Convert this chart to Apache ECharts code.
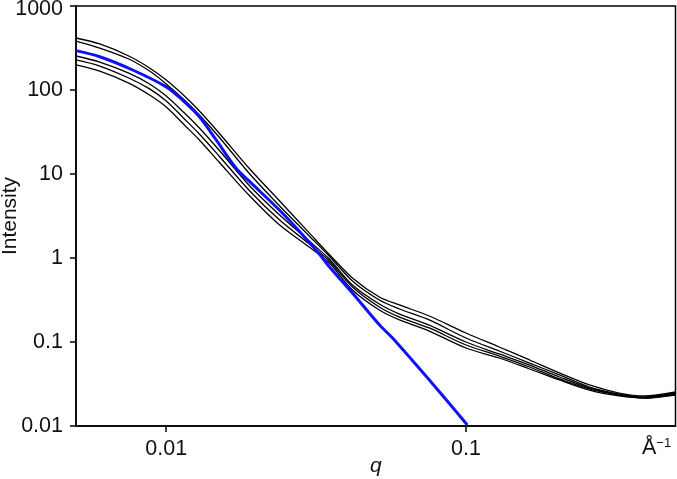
<!DOCTYPE html>
<html><head><meta charset="utf-8">
<script src="https://cdn.jsdelivr.net/npm/echarts@6/dist/echarts.min.js"></script>
<style>html,body{margin:0;padding:0;background:#fff}#c{width:677px;height:479px}</style>
</head><body><div id="c"></div>
<script>
// q values (Å^-1) shared by the measured curves
const qValues = [0.005, 0.006, 0.0075, 0.0088, 0.01, 0.0115, 0.0129, 0.015, 0.019, 0.0239, 0.030, 0.035, 0.0418, 0.0514, 0.06, 0.0754, 0.1, 0.129, 0.163, 0.205, 0.258, 0.324, 0.393, 0.5];
const curveA = [416, 353, 254, 183, 131.6, 84.8, 56.2, 30.8, 11.47, 4.77, 1.99, 1.10, 0.578, 0.343, 0.276, 0.204, 0.128, 0.0872, 0.0611, 0.0428, 0.0308, 0.0247, 0.0228, 0.0254];
const curveB = [383, 316, 234, 168, 118, 76.0, 50.4, 27.6, 10.0, 4.16, 1.83, 1.05, 0.532, 0.316, 0.247, 0.183, 0.1115, 0.0781, 0.0562, 0.0405, 0.0291, 0.0240, 0.0221, 0.0247];
const curveC = [254, 215, 159, 118, 84.8, 53.2, 35.3, 19.3, 7.20, 3.25, 1.59, 0.972, 0.477, 0.283, 0.215, 0.159, 0.1, 0.0720, 0.0532, 0.0383, 0.0283, 0.0234, 0.0221, 0.0240];
const curveD = [228, 193, 139, 103, 73.9, 45.2, 29.9, 16.4, 6.28, 2.83, 1.47, 0.920, 0.452, 0.261, 0.198, 0.147, 0.0921, 0.0681, 0.0504, 0.0363, 0.0276, 0.0234, 0.0215, 0.0240];
const curveE = [199, 168, 121, 87.2, 62.8, 38.3, 25.4, 13.9, 5.47, 2.47, 1.35, 0.872, 0.416, 0.240, 0.183, 0.135, 0.0848, 0.0645, 0.0477, 0.0353, 0.0268, 0.0228, 0.0215, 0.0234];
// model curve (blue)
const modelQ = [0.005, 0.006, 0.00773, 0.01, 0.01133, 0.0129, 0.01468, 0.0171, 0.019, 0.0244, 0.0316, 0.035, 0.0418, 0.0514, 0.0568, 0.0794, 0.101];
const modelI = [294, 249, 173, 109, 76, 48.1, 25.4, 11.7, 8.1, 3.43, 1.245, 0.788, 0.383, 0.160, 0.112, 0.0285, 0.0103];
// tick labels
const xTicks = [0.01, 0.1];
const yTicks = [0.01, 0.1, 1, 10, 100, 1000];

const FONT = 'Liberation Sans, Arial, Helvetica, sans-serif';
const pair = (xs, ys) => xs.map((x, i) => [x, ys[i]]);
const fmt = v => String(Number(Number(v).toPrecision(3)));

const blackSeries = [curveA, curveB, curveC, curveD, curveE].map((c, i) => ({
  type: 'line', name: 'sample' + (i + 1), data: pair(qValues, c), showSymbol: false,
  smooth: 0.3, lineStyle: { color: '#000', width: 1.3 }, z: 2, silent: true
}));

const chart = echarts.init(document.getElementById('c'), null, { renderer: 'canvas' });
chart.setOption({
  animation: false,
  grid: { left: 76, right: 1.5, top: 6, bottom: 53, outerBoundsMode: 'none', containLabel: false,
          show: true, borderColor: '#000', borderWidth: 1.5, backgroundColor: 'transparent' },
  xAxis: {
    type: 'log', logBase: 10, min: 0.005, max: 0.5,
    name: 'q', nameLocation: 'middle', nameGap: 30, nameMoveOverlap: false,
    nameTextStyle: { fontFamily: FONT, fontSize: 21, fontStyle: 'italic', color: '#111' },
    axisLine: { show: true, lineStyle: { color: '#000', width: 1.5 } },
    axisTick: { show: true, length: 6, lineStyle: { color: '#000', width: 1.5 }, customValues: xTicks },
    axisLabel: { customValues: xTicks, formatter: fmt, fontFamily: FONT, fontSize: 21.5, color: '#111', margin: 12 },
    minorTick: { show: false }, splitLine: { show: false }
  },
  yAxis: {
    type: 'log', logBase: 10, min: 0.01, max: 1000,
    name: 'Intensity', nameLocation: 'middle', nameGap: 55, nameMoveOverlap: false,
    nameTextStyle: { fontFamily: FONT, fontSize: 21, color: '#111' },
    axisLine: { show: true, lineStyle: { color: '#000', width: 1.5 } },
    axisTick: { show: true, length: 6, lineStyle: { color: '#000', width: 1.5 }, customValues: yTicks },
    axisLabel: {
      customValues: yTicks, fontFamily: FONT, fontSize: 21.5, color: '#111', margin: 13,
      formatter: v => { const s = fmt(v); return Number(v) >= 999 ? '{top|' + s + '}' : s; },
      rich: { top: { fontFamily: FONT, fontSize: 21.5, color: '#111', padding: [6, 0, 0, 0] } }
    },
    minorTick: { show: false }, splitLine: { show: false }
  },
  graphic: [{
    type: 'text', left: 642, top: 437,
    style: {
      text: '{a|\u00c5}{s|\u2212\u0031}',
      rich: {
        a: { fontFamily: FONT, fontSize: 21.5, fill: '#111', verticalAlign: 'bottom' },
        s: { fontFamily: FONT, fontSize: 13, fill: '#111', verticalAlign: 'top' }
      }
    }
  }],
  series: blackSeries.concat([{
    type: 'line', name: 'model', data: pair(modelQ, modelI), showSymbol: false,
    smooth: 0.3, lineStyle: { color: '#1010ff', width: 3 }, z: 3, silent: true
  }])
});
</script>
</body></html>
